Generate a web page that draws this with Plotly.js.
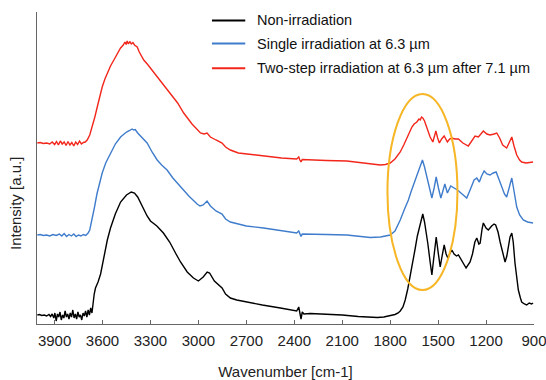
<!DOCTYPE html>
<html>
<head>
<meta charset="utf-8">
<script src="https://cdn.plot.ly/plotly-3.0.1.min.js"></script>
<style>html,body{margin:0;padding:0;background:#fff;}#chart{width:546px;height:380px;}</style>
</head>
<body>
<div id="chart"></div>
<script>
// Series names
const seriesNames = ["Non-irradiation", "Single irradiation at 6.3 \u00b5m", "Two-step irradiation at 6.3 \u00b5m after 7.1 \u00b5m"];

// Non-irradiation (black): wavenumber [cm-1] and intensity [a.u.]
const blackWn = [4008,3995,3980,3965,3950,3935,3925,3915,3905,3898,3890,3882,3874,3866,3858,3850,3842,3834,3826,3818,3810,3802,3794,3786,3778,3770,3762,3754,3746,3738,3730,3722,3714,3706,3698,3690,3682,3674,3666,3660,3652,3644,3628,3612,3590,3570,3550,3520,3487,3450,3420,3400,3380,3350,3321,3300,3260,3219,3180,3140,3112,3070,3031,3000,2970,2945,2930,2900,2870,2852,2830,2800,2760,2700,2600,2487,2420,2385,2372,2365,2358,2350,2340,2300,2200,2100,2000,1950,1880,1840,1810,1790,1770,1750,1737,1720,1706,1690,1675,1660,1644,1630,1617,1605,1596,1585,1575,1564,1550,1539,1530,1520,1512,1500,1487,1475,1462,1450,1439,1428,1414,1400,1385,1373,1350,1325,1300,1285,1270,1258,1245,1237,1225,1217,1200,1186,1165,1150,1140,1125,1112,1095,1081,1070,1061,1050,1039,1030,1019,1008,998,985,977,960,946,930,915,906];
const blackI = [9,9.5,8.5,9,8,9.5,7.5,10,6,11,3,10,7,12,4,9,6,13,7,10,5,11,7,14,6,10,5,12,7,9,4,11,8,13,7,14,9,16,11,20,30,36,42,50,70,84,96,110,122,129,132,131,127,117,108,103,98,91,82,70,62,52,46,43,47,52,51,43,38,36,30,26,24,22,19,16,14,13,17,12,5,12,10,10.5,10,9,7.5,7,6.5,7,8,9,9.5,11,13,17,24,35,47,62,75,88,97,107,110,102,92,80,62,49,62,80,87,72,57,68,79,70,66,70,74,70,68,69,62,56,62,70,82,86,80,81,95,101,96,94,98,100,99,92,82,70,62,68,77,87,91,82,61,45,34,26,22,20,19,21,20,21];

// Single irradiation at 6.3 um (blue)
const blueWn = [4008,3990,3970,3950,3930,3910,3890,3870,3855,3840,3825,3810,3795,3780,3765,3750,3735,3720,3705,3690,3680,3665,3650,3635,3620,3602,3580,3550,3520,3487,3450,3430,3415,3405,3395,3380,3350,3321,3290,3258,3230,3196,3160,3112,3060,3008,2990,2970,2946,2925,2890,2852,2830,2800,2750,2700,2592,2480,2385,2372,2365,2358,2350,2300,2200,2071,1980,1925,1860,1800,1770,1737,1710,1686,1670,1654,1640,1623,1610,1598,1585,1571,1555,1539,1525,1512,1498,1483,1470,1458,1442,1430,1421,1400,1379,1350,1321,1300,1285,1275,1258,1242,1228,1212,1195,1175,1155,1137,1120,1102,1085,1071,1055,1039,1025,1008,990,967,940,920,906];
const blueI = [89,89.5,88.5,89,88,89.5,88.5,90,88,90.5,87.5,89.5,88,90,87.5,89,88,89.5,88.5,91,94,104,117,130,141,151,161,171,180,187,192,193.5,195,194,194.5,191,186,181,172,164,159,154,146,137,128,120,118,119,123,118,113,110,105,102,100,98,96,93,91,93,90,87.5,90,90,89.5,89,87.5,86.5,87,89,93,104,115,124,132,139,145,152,158,164,157,147,135,126,136,147,136,126,133,140,131,135,138,136,134,130,126,134,141,144,146,142,148,153,150,149,151,152,145,137,130,127,138,146,133,117,109,104,102,101,101];

// Two-step irradiation at 6.3 um after 7.1 um (red)
const redWn = [4008,3990,3970,3950,3930,3915,3900,3888,3876,3864,3852,3840,3828,3816,3804,3792,3780,3768,3756,3744,3732,3720,3708,3696,3680,3664,3648,3633,3618,3602,3585,3571,3550,3529,3508,3487,3470,3460,3452,3446,3438,3430,3420,3410,3400,3383,3370,3355,3342,3320,3300,3258,3220,3175,3130,3092,3040,2987,2965,2946,2925,2890,2852,2830,2800,2750,2700,2592,2480,2385,2372,2365,2358,2350,2300,2200,2071,1960,1862,1830,1800,1770,1737,1715,1696,1680,1664,1650,1633,1620,1612,1604,1596,1585,1571,1560,1550,1533,1522,1514,1503,1492,1478,1462,1442,1428,1414,1395,1373,1345,1311,1290,1269,1248,1230,1217,1195,1175,1150,1133,1115,1096,1071,1055,1039,1025,1008,990,977,950,930,906];
const redI = [181,181.5,180.5,181,180,182,179.5,182.5,179,183,180,182,178.5,182.5,179,181.5,178,182,179.5,183,180,181.5,182,184,189,197,207,217,227,237,245,251,258,264,270,276,279,282,279.5,283,280,282.5,280,281.5,279,277,272,267,264,260,256,247,240,231,221,211,200,191,190,191,187,184,181,177,174,171,170,168,166,165,167,164,162,164.5,164,163.5,163,161,159,159.5,161,165,172,179,186,191,197,200,202,205,204,207,206,203,197,192,187,182,188,193,186,181,185,188,182,185,186,185,185,181,178,183,188,187,191,193,190,189,190,191,186,179,176,182,187,178,169,164,162,161,161.5,162];

// Axis ticks
const xTicks = [3900,3600,3300,3000,2700,2400,2100,1800,1500,1200,900];

// Highlighted region (ellipse) in data units
const ellipseWn = [1817, 1379];
const ellipseI = [34, 230];

const colors = ["#000000", "#3F7CCB", "#F2261B"];
const font = "Arial, 'Liberation Sans', sans-serif";

const traces = [
  {x: blackWn, y: blackI, name: seriesNames[0]},
  {x: blueWn, y: blueI, name: seriesNames[1]},
  {x: redWn, y: redI, name: seriesNames[2]}
].map((t, i) => Object.assign(t, {type: "scatter", mode: "lines", line: {color: colors[i], width: 1.4}}));

// Legend drawn in paper coordinates (line sample + label)
const legendRowsY = [0.973, 0.899, 0.820];
const legendShapes = seriesNames.map((n, i) => ({type: "line", xref: "paper", yref: "paper",
  x0: 0.352, x1: 0.419, y0: legendRowsY[i], y1: legendRowsY[i], line: {color: colors[i], width: 2}}));
const legendLabels = seriesNames.map((n, i) => ({text: n, xref: "paper", yref: "paper", x: 0.438, y: legendRowsY[i],
  xanchor: "left", yanchor: "middle", showarrow: false, font: {family: font, size: 14.5, color: "#111"}}));

const layout = {
  width: 546, height: 380,
  margin: {l: 37, r: 12, t: 12, b: 56},
  paper_bgcolor: "#fff", plot_bgcolor: "#fff",
  font: {family: font, size: 15, color: "#222"},
  showlegend: false,
  xaxis: {range: [4010, 900], tickvals: xTicks, ticktext: xTicks.map(String), ticks: "inside", ticklen: 4,
          tickcolor: "#666", showline: true, linecolor: "#666", linewidth: 1, showgrid: false, zeroline: false,
          ticklabelstandoff: 3, automargin: false, ticklabeloverflow: "allow",
          tickfont: {family: font, size: 15, color: "#222"},
          title: {text: "Wavenumber [cm-1]", font: {family: font, size: 15, color: "#222"}, standoff: 24}},
  yaxis: {range: [0, 312], showline: true, linecolor: "#666", linewidth: 1, showticklabels: false, ticks: "",
          showgrid: false, zeroline: false, automargin: false},
  shapes: [{type: "circle", xref: "x", yref: "y", x0: ellipseWn[0], x1: ellipseWn[1], y0: ellipseI[0], y1: ellipseI[1],
            line: {color: "#F6B626", width: 2}, fillcolor: "rgba(0,0,0,0)"}].concat(legendShapes),
  annotations: [{text: "Intensity [a.u.]", xref: "paper", yref: "paper", x: -0.042, y: 0.385, xanchor: "center", yanchor: "middle",
                 textangle: -90, showarrow: false, font: {family: font, size: 15, color: "#222"}}].concat(legendLabels)
};

Plotly.newPlot("chart", traces, layout, {displayModeBar: false, staticPlot: true});
</script>
</body>
</html>
